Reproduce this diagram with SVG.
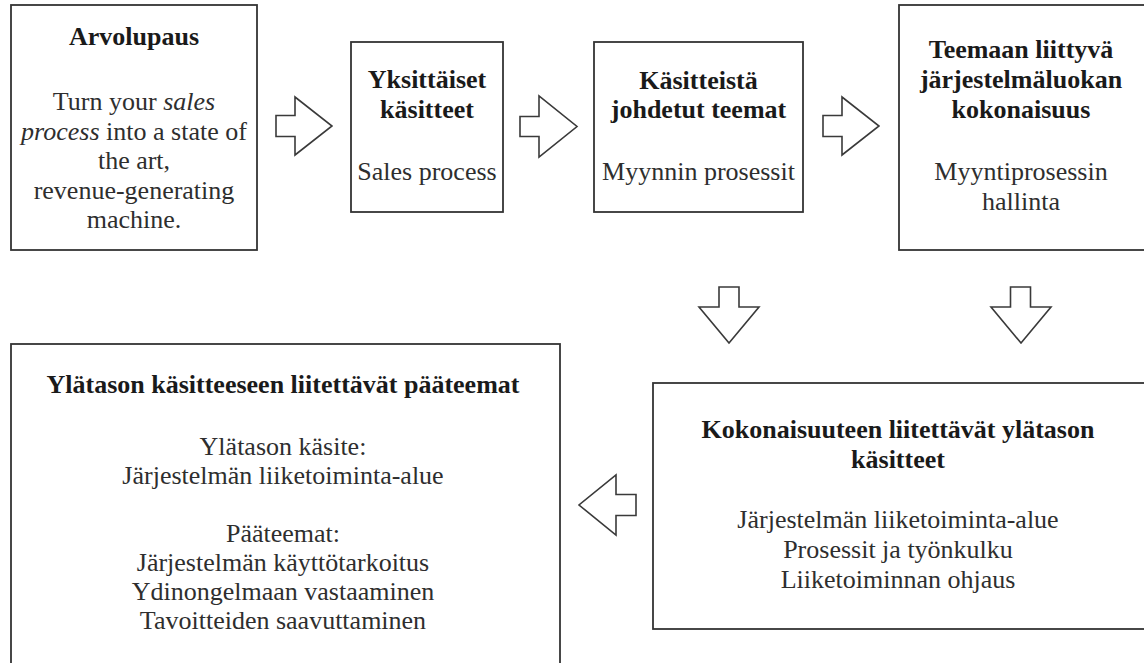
<svg xmlns="http://www.w3.org/2000/svg" width="1144" height="663" viewBox="0 0 1144 663">
<style>
.box{fill:#fff;stroke:#333;stroke-width:1.8}
.arr{fill:#fff;stroke:#3a3a3a;stroke-width:1.6;stroke-linejoin:miter}
text{font-family:'Liberation Serif','DejaVu Serif',serif;font-size:26px;text-anchor:middle}
.t{font-weight:bold;fill:#1a1a1a}
.b{fill:#2e2e2e}
</style>
<rect width="1144" height="663" fill="#fff"/>
<g id="connectors">
<polygon class="arr" points="276,115.5 295,115.5 295,97 332,126 295,155 295,136.5 276,136.5"/>
<polygon class="arr" points="520,116.5 539,116.5 539,96 577,126.5 539,157 539,136.5 520,136.5"/>
<polygon class="arr" points="823,115.5 842,115.5 842,97 879,126 842,155 842,136.5 823,136.5"/>
<polygon class="arr" points="719,287 739,287 739,307 759,307 729,343 699,307 719,307"/>
<polygon class="arr" points="1010.5,287 1030.5,287 1030.5,307 1051,307 1021,343 991,307 1010.5,307"/>
<polygon class="arr" points="636,494.5 616,494.5 616,475 579,505 616,535 616,515.5 636,515.5"/>
</g>
<g id="arvolupaus" font-family="Liberation Serif, serif">
<rect class="box" x="11" y="5" width="246" height="245"/>
<text class="t" x="134" y="45">Arvolupaus</text>
<text class="b" x="134" y="110">Turn your <tspan font-style="italic">sales</tspan></text>
<text class="b" x="134" y="139.5"><tspan font-style="italic">process</tspan> into a state of</text>
<text class="b" x="134" y="169">the art,</text>
<text class="b" x="134" y="198.5">revenue-generating</text>
<text class="b" x="134" y="228">machine.</text>
</g>
<g id="yksittaiset">
<rect class="box" x="351" y="42" width="152" height="170"/>
<text class="t" x="427" y="88">Yksittäiset</text>
<text class="t" x="427" y="118">käsitteet</text>
<text class="b" x="427" y="180">Sales process</text>
</g>
<g id="kasitteista">
<rect class="box" x="594" y="42" width="209" height="170"/>
<text class="t" x="698.5" y="89">Käsitteistä</text>
<text class="t" x="698.5" y="118">johdetut teemat</text>
<text class="b" x="698.5" y="180">Myynnin prosessit</text>
</g>
<g id="teemaan">
<rect class="box" x="899" y="5" width="250" height="245"/>
<text class="t" x="1021" y="58">Teemaan liittyvä</text>
<text class="t" x="1021" y="88">järjestelmäluokan</text>
<text class="t" x="1021" y="118">kokonaisuus</text>
<text class="b" x="1021" y="180">Myyntiprosessin</text>
<text class="b" x="1021" y="210">hallinta</text>
</g>
<g id="kokonaisuuteen">
<rect class="box" x="653" y="383" width="496" height="246"/>
<text class="t" x="898" y="438">Kokonaisuuteen liitettävät ylätason</text>
<text class="t" x="898" y="468">käsitteet</text>
<text class="b" x="898" y="528">Järjestelmän liiketoiminta-alue</text>
<text class="b" x="898" y="558">Prosessit ja työnkulku</text>
<text class="b" x="898" y="588">Liiketoiminnan ohjaus</text>
</g>
<g id="ylatason">
<rect class="box" x="11" y="344" width="549" height="330"/>
<text class="t" x="283" y="393">Ylätason käsitteeseen liitettävät pääteemat</text>
<text class="b" x="283" y="455">Ylätason käsite:</text>
<text class="b" x="283" y="484">Järjestelmän liiketoiminta-alue</text>
<text class="b" x="283" y="542">Pääteemat:</text>
<text class="b" x="283" y="571">Järjestelmän käyttötarkoitus</text>
<text class="b" x="283" y="600">Ydinongelmaan vastaaminen</text>
<text class="b" x="283" y="629">Tavoitteiden saavuttaminen</text>
</g>
</svg>
